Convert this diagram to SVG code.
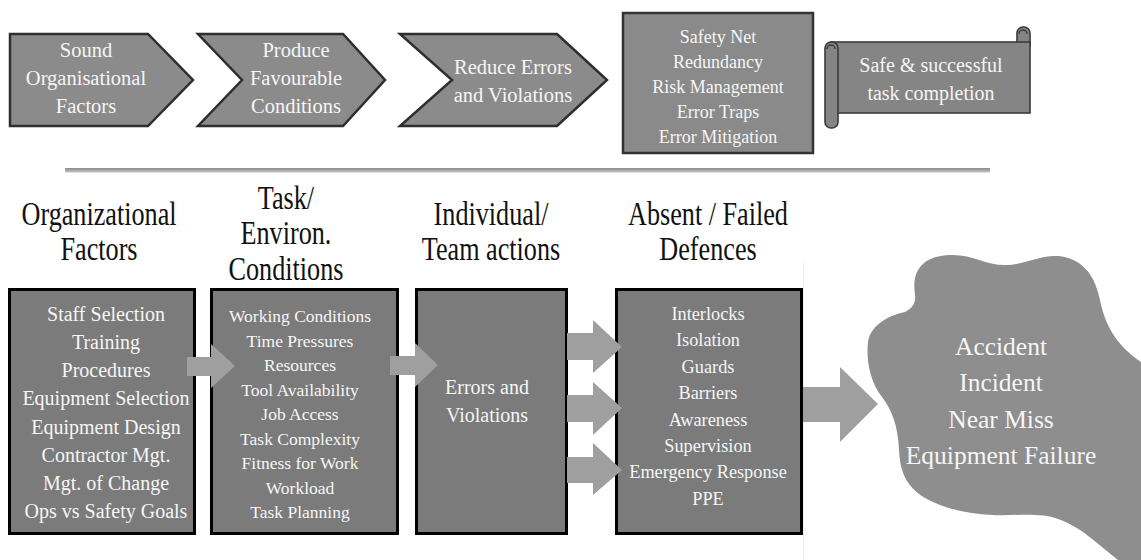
<svg xmlns="http://www.w3.org/2000/svg" width="1141" height="560" viewBox="0 0 1141 560">
  <defs>
    <linearGradient id="rule" x1="0" y1="0" x2="0" y2="1">
      <stop offset="0" stop-color="#8a8a8a"/>
      <stop offset="1" stop-color="#c4c4c4"/>
    </linearGradient>
  </defs>
  <style>
    .chev { fill: #8b8b8b; stroke: #2e2e2e; stroke-width: 2.5; stroke-linejoin: miter; }
    .panel { fill: #8a8a8a; stroke: #333; stroke-width: 2.5; }
    .scroll { fill: #858585; stroke: #3a3a3a; stroke-width: 1.6; }
    .box { fill: #7b7b7b; stroke: #000; stroke-width: 3; }
    .arrow { fill: #9f9f9f; }
    .blob { fill: #8e8e8e; }
    .t { font-family: "Liberation Serif", "Times New Roman", serif; fill: #f6f6f6; text-anchor: middle; }
    .hdr { font-family: "Liberation Serif", "Times New Roman", serif; font-size: 34px; fill: #111; text-anchor: middle; }
  </style>

  <rect width="1141" height="560" fill="#fff"/>

  <!-- top row: process chevrons -->
  <g id="sound-org-factors">
    <path class="chev" d="M10,34 H148 L193,80 L148,126 H10 Z"/>
    <text class="t" font-size="20.5" x="86" y="57">Sound</text>
    <text class="t" font-size="20.5" x="86" y="85">Organisational</text>
    <text class="t" font-size="20.5" x="86" y="113">Factors</text>
  </g>
  <g id="produce-conditions">
    <path class="chev" d="M198,34 H343 L385,80 L343,126 H198 L242,80 Z"/>
    <text class="t" font-size="20.5" x="296" y="57">Produce</text>
    <text class="t" font-size="20.5" x="296" y="85">Favourable</text>
    <text class="t" font-size="20.5" x="296" y="113">Conditions</text>
  </g>
  <g id="reduce-errors">
    <path class="chev" d="M400,34 H557 L607,80 L557,126 H400 L452,80 Z"/>
    <text class="t" font-size="20.5" x="513" y="74">Reduce Errors</text>
    <text class="t" font-size="20.5" x="513" y="102">and Violations</text>
  </g>
  <g id="safety-net">
    <rect class="panel" x="623" y="13" width="190" height="140"/>
    <text class="t" font-size="18" x="718" y="43">Safety Net</text>
    <text class="t" font-size="18" x="718" y="68">Redundancy</text>
    <text class="t" font-size="18" x="718" y="93">Risk Management</text>
    <text class="t" font-size="18" x="718" y="118">Error Traps</text>
    <text class="t" font-size="18" x="718" y="143">Error Mitigation</text>
  </g>
  <g id="safe-completion">
    <rect class="scroll" x="1017" y="27" width="13" height="24" rx="6"/>
    <rect class="scroll" x="831" y="42" width="199" height="71"/>
    <rect class="scroll" x="825" y="42" width="13" height="86" rx="6" fill="#7d7d7d"/>
    <path d="M827,49 a4,4 0 1 1 8,0" fill="none" stroke="#3a3a3a" stroke-width="1.4"/>
    <path d="M1019,34 a4,4 0 1 1 8,0" fill="none" stroke="#3a3a3a" stroke-width="1.4"/>
    <text class="t" font-size="20" x="931" y="72">Safe &amp; successful</text>
    <text class="t" font-size="20" x="931" y="100">task completion</text>
  </g>

  <!-- divider between the two rows -->
  <rect x="65" y="168" width="925" height="4.5" fill="url(#rule)"/>

  <!-- column headings, a tall condensed serif (x values are pre-divided by the 0.77 squeeze) -->
  <g id="headings" transform="scale(0.77,1)">
    <text class="hdr" x="128.6" y="225">Organizational</text>
    <text class="hdr" x="128.6" y="260">Factors</text>
    <text class="hdr" x="371.4" y="209">Task/</text>
    <text class="hdr" x="371.4" y="244">Environ.</text>
    <text class="hdr" x="371.4" y="280">Conditions</text>
    <text class="hdr" x="637.7" y="225">Individual/</text>
    <text class="hdr" x="637.7" y="260">Team actions</text>
    <text class="hdr" x="919.5" y="225">Absent / Failed</text>
    <text class="hdr" x="919.5" y="260">Defences</text>
  </g>

  <line x1="803.5" y1="262" x2="803.5" y2="560" stroke="#eeeeee" stroke-width="1"/>

  <!-- bottom row: causal chain -->
  <g id="organizational-factors">
    <rect class="box" x="9.5" y="289.5" width="185" height="244"/>
    <text class="t" font-size="20" x="106" y="321">Staff Selection</text>
    <text class="t" font-size="20" x="106" y="349">Training</text>
    <text class="t" font-size="20" x="106" y="377">Procedures</text>
    <text class="t" font-size="20" x="106" y="405">Equipment Selection</text>
    <text class="t" font-size="20" x="106" y="434">Equipment Design</text>
    <text class="t" font-size="20" x="106" y="462">Contractor Mgt.</text>
    <text class="t" font-size="20" x="106" y="490">Mgt. of Change</text>
    <text class="t" font-size="20" x="106" y="518">Ops vs Safety Goals</text>
  </g>
  <g id="task-conditions">
    <rect class="box" x="211.5" y="289.5" width="186" height="244"/>
    <text class="t" font-size="17.5" x="300" y="322">Working Conditions</text>
    <text class="t" font-size="17.5" x="300" y="347">Time Pressures</text>
    <text class="t" font-size="17.5" x="300" y="371">Resources</text>
    <text class="t" font-size="17.5" x="300" y="396">Tool Availability</text>
    <text class="t" font-size="17.5" x="300" y="420">Job Access</text>
    <text class="t" font-size="17.5" x="300" y="445">Task Complexity</text>
    <text class="t" font-size="17.5" x="300" y="469">Fitness for Work</text>
    <text class="t" font-size="17.5" x="300" y="494">Workload</text>
    <text class="t" font-size="17.5" x="300" y="518">Task Planning</text>
  </g>
  <g id="team-actions">
    <rect class="box" x="416.5" y="289.5" width="150" height="244"/>
    <text class="t" font-size="20" x="487" y="394">Errors and</text>
    <text class="t" font-size="20" x="487" y="422">Violations</text>
  </g>
  <g id="failed-defences">
    <rect class="box" x="616.5" y="289.5" width="185" height="244"/>
    <text class="t" font-size="18.3" x="708" y="320">Interlocks</text>
    <text class="t" font-size="18.3" x="708" y="346">Isolation</text>
    <text class="t" font-size="18.3" x="708" y="373">Guards</text>
    <text class="t" font-size="18.3" x="708" y="399">Barriers</text>
    <text class="t" font-size="18.3" x="708" y="426">Awareness</text>
    <text class="t" font-size="18.3" x="708" y="452">Supervision</text>
    <text class="t" font-size="18.3" x="708" y="478">Emergency Response</text>
    <text class="t" font-size="18.3" x="708" y="505">PPE</text>
  </g>
  <g id="outcome">
    <path class="blob" d="M915,295 C911,268 925,256 950,255 C972,254 985,265 1005,265 C1025,265 1038,255 1058,256 C1082,258 1095,275 1100,300 C1105,325 1116,345 1141,362 L1141,560 L1118,560 C1100,546 1080,526 1058,519 C1040,512 1015,516 993,515 C968,514 945,509 925,498 C905,486 900,470 899,450 C898,426 892,410 882,397 C870,382 866,360 868,342 C871,322 895,314 905,312 C913,308 916,302 915,295 Z"/>
    <text class="t" font-size="25.5" x="1001" y="355">Accident</text>
    <text class="t" font-size="25.5" x="1001" y="391">Incident</text>
    <text class="t" font-size="25.5" x="1001" y="428">Near Miss</text>
    <text class="t" font-size="25.5" x="1001" y="464">Equipment Failure</text>
  </g>

  <!-- block arrows linking the stages -->
  <g id="connectors">
    <polygon class="arrow" points="187,357 211,357 211,344 235,366 211,388 211,376 187,376"/>
    <polygon class="arrow" points="390,356 415,356 415,343 438,365 415,387 415,375 390,375"/>
    <polygon class="arrow" points="567,333 593,333 593,320 622,347 593,373 593,360 567,360"/>
    <polygon class="arrow" points="567,395 593,395 593,382 622,408 593,435 593,422 567,422"/>
    <polygon class="arrow" points="567,457 593,457 593,443 622,470 593,495 593,483 567,483"/>
    <polygon class="arrow" points="803,387 840,387 840,367 878,404 840,442 840,422 803,422"/>
  </g>
</svg>
